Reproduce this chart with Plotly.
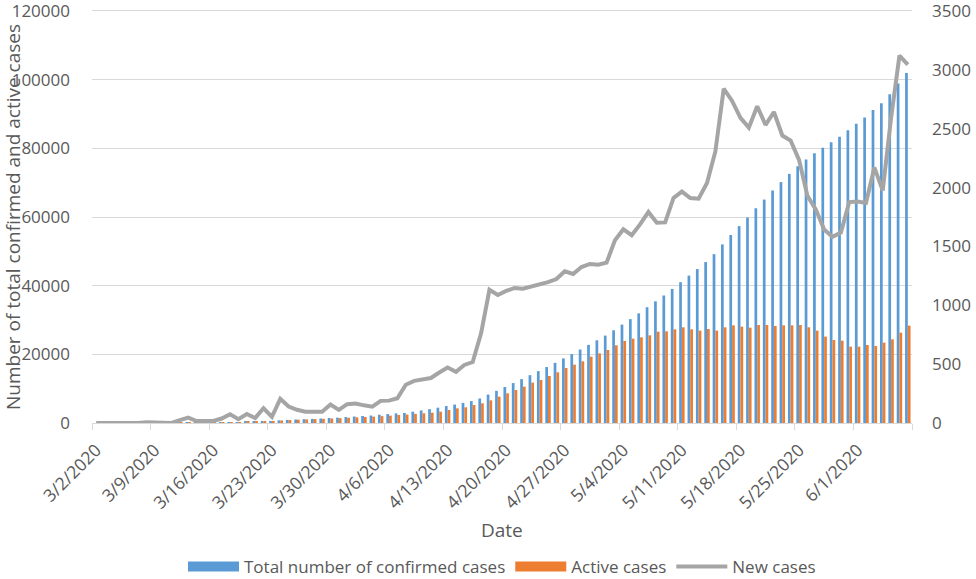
import datetime
import plotly.graph_objects as go

# ---------------- data ----------------
start_date = datetime.date(2020, 3, 2)
n_days = 98
dates = [start_date + datetime.timedelta(days=i) for i in range(n_days)]

total_confirmed = [
    1, 1, 1, 5, 5, 5, 11, 15, 20, 21,
    45, 86, 103, 118, 133, 171, 238, 274, 344, 392,
    511, 562, 767, 900, 1012, 1104, 1203, 1299, 1453, 1563,
    1720, 1885, 2039, 2179, 2402, 2605, 2795, 2932, 3287, 3651,
    4033, 4462, 4934, 5369, 5862, 6380, 7142, 8274, 9362, 10484,
    11631, 12772, 13930, 15102, 16299, 17522, 18811, 20077, 21402, 22753,
    24097, 25459, 27011, 28656, 30251, 31938, 33731, 35432, 37136, 39048,
    41014, 42925, 44830, 46869, 49176, 52016, 54752, 57345, 59854, 62545,
    65077, 67719, 70161, 72560, 74795, 76726, 78541, 80185, 81766, 83384,
    85261, 87142, 89011, 91182, 93157, 95748, 98869, 101914,
]

active_cases = [
    1, 1, 1, 5, 5, 5, 11, 15, 19, 20,
    44, 84, 101, 116, 127, 164, 229, 262, 330, 374,
    490, 540, 732, 856, 965, 1046, 1136, 1213, 1322, 1410,
    1530, 1640, 1760, 1850, 2000, 2150, 2330, 2440, 2650, 2820,
    3000, 3300, 3787, 4272, 4564, 5243, 5728, 6602, 7670, 8642,
    9613, 10584, 11750, 12526, 13690, 14760, 16020, 16990, 17960, 19320,
    20290, 21265, 22630, 23890, 24570, 24960, 25540, 26600, 26700, 27290,
    27870, 27290, 26900, 27380, 26900, 27870, 28450, 28060, 27770, 28550,
    28550, 28260, 28450, 28450, 28550, 27870, 26900, 25150, 24180, 23980,
    22230, 22230, 22720, 22430, 23400, 24370, 26310, 28350,
]

new_cases = [
    1, 0, 0, 4, 0, 0, 6, 4, 5, 1,
    24, 45, 17, 15, 18, 38, 75, 33, 76, 42,
    125, 52, 205, 140, 112, 96, 96, 96, 157, 112,
    160, 166, 150, 139, 188, 190, 210, 325, 358, 370,
    382, 429, 472, 435, 493, 518, 762, 1132, 1088, 1122,
    1147, 1141, 1158, 1172, 1197, 1223, 1289, 1266, 1325, 1351,
    1344, 1362, 1552, 1645, 1595, 1687, 1793, 1701, 1704, 1912,
    1966, 1911, 1905, 2039, 2307, 2840, 2736, 2593, 2509, 2691,
    2532, 2642, 2442, 2399, 2235, 1931, 1815, 1644, 1581, 1618,
    1877, 1881, 1869, 2171, 1975, 2591, 3121, 3045,
]

tick_labels = [
    "3/2/2020", "3/9/2020", "3/16/2020", "3/23/2020", "3/30/2020",
    "4/6/2020", "4/13/2020", "4/20/2020", "4/27/2020", "5/4/2020",
    "5/11/2020", "5/18/2020", "5/25/2020", "6/1/2020",
]
tick_dates = [dates[i] for i in range(0, n_days, 7)]

left_ticks = [0, 20000, 40000, 60000, 80000, 100000, 120000]
right_ticks = [0, 500, 1000, 1500, 2000, 2500, 3000, 3500]

half_day = datetime.timedelta(hours=12)
day0 = datetime.datetime.combine(dates[0], datetime.time())
boundary_ticks = [day0 - half_day + datetime.timedelta(days=7 * k) for k in range(15)]
x_range = [day0 - half_day,
           datetime.datetime.combine(dates[-1], datetime.time()) + half_day]

# ---------------- figure ----------------
TEXT = "#595959"
GRID = "#d9d9d9"
FONT = "Open Sans"
BLUE = "#5b9bd5"
ORANGE = "#ed7d31"
GREY = "#a5a5a5"

fig = go.Figure()
fig.add_trace(go.Bar(x=dates, y=total_confirmed, name="Total number of confirmed cases",
                     marker=dict(color=BLUE, line=dict(width=0)),
                     legendgroup="total", showlegend=False))
fig.add_trace(go.Bar(x=dates, y=active_cases, name="Active cases",
                     marker=dict(color=ORANGE, line=dict(width=0)),
                     legendgroup="active", showlegend=False))
fig.add_trace(go.Scatter(x=dates, y=new_cases, name="New cases", mode="lines",
                         line=dict(color=GREY, width=4), yaxis="y2",
                         legendgroup="new", showlegend=False))

# legend entries (Excel-style wide swatches)
fig.add_trace(go.Scatter(x=[None], y=[None], mode="lines", name="Total number of confirmed cases",
                         line=dict(color=BLUE, width=10), legendgroup="total"))
fig.add_trace(go.Scatter(x=[None], y=[None], mode="lines", name="Active cases",
                         line=dict(color=ORANGE, width=10), legendgroup="active"))
fig.add_trace(go.Scatter(x=[None], y=[None], mode="lines", name="New cases",
                         line=dict(color=GREY, width=4), legendgroup="new"))

fig.update_layout(
    width=976, height=579,
    margin=dict(l=92, r=64, t=11, b=156, autoexpand=False),
    paper_bgcolor="white", plot_bgcolor="white",
    barmode="group", bargap=0.35, bargroupgap=0,
    font=dict(family=FONT, size=16, color=TEXT),
    xaxis=dict(
        type="date", range=x_range, automargin=False,
        tickmode="array", tickvals=tick_dates, ticktext=tick_labels,
        tickangle=-45, ticks="", showgrid=False, zeroline=False,
        showline=True, mirror=True, linecolor=GRID, linewidth=1,
        ticklabelstandoff=9,
        tickfont=dict(family=FONT, size=17.5, color=TEXT),
        minor=dict(tickmode="array", tickvals=boundary_ticks, ticks="outside",
                   ticklen=6, tickcolor=GRID, tickwidth=1, showgrid=False),
    ),
    yaxis=dict(
        range=[0, 120000], tickmode="array", tickvals=left_ticks, automargin=False,
        showgrid=True, gridcolor=GRID, gridwidth=1, zeroline=False,
        ticks="", tickformat="d", ticklabeloverflow="allow",
        ticklabelstandoff=21,
        tickfont=dict(family=FONT, size=17, color=TEXT),
    ),
    yaxis2=dict(
        range=[0, 3500], tickmode="array", tickvals=right_ticks,
        overlaying="y", side="right",
        showgrid=False, zeroline=False, ticks="", automargin=False,
        tickformat="d", ticklabelstandoff=19, ticklabeloverflow="allow",
        tickfont=dict(family=FONT, size=17, color=TEXT),
    ),
    legend=dict(orientation="h", x=0.5, xanchor="center",
                yref="container", y=1 - 567 / 579, yanchor="middle",
                itemwidth=51,
                font=dict(family=FONT, size=17, color=TEXT), bgcolor="rgba(0,0,0,0)"),
    showlegend=True,
    annotations=[
        dict(text="Number of total confirmed and active cases", xref="paper", yref="paper",
             x=(13 - 92) / 820, y=0.5, xanchor="center", yanchor="middle", textangle=-90,
             showarrow=False, font=dict(family=FONT, size=19, color=TEXT)),
        dict(text="Date", xref="paper", yref="paper",
             x=0.5, y=(423 - 530) / 412, xanchor="center", yanchor="middle",
             showarrow=False, font=dict(family=FONT, size=19, color=TEXT)),
    ],
)

fig.write_html(
    "out.html",
    config={"displayModeBar": False},
    post_script="document.body.style.margin='0';document.body.style.overflow='hidden';",
)
